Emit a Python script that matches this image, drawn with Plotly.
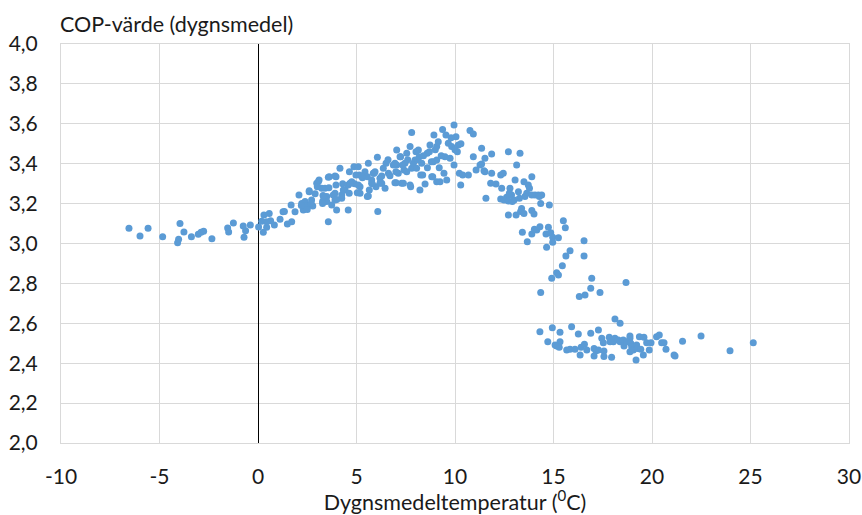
import plotly.graph_objects as go

# Daily mean temperature (°C) and daily mean COP
temp = [
    -6.55, -5.99, -5.58, -4.84, -3.96, -3.76, -4.03, -4.08, -3.38, -3.03, -2.89, -2.76, -2.34, -1.54, -1.49, -1.25, -0.75, -0.71, -0.63, -0.39,
    0.03, 0.19, 0.27, 0.30, 0.44, 0.57, 0.64, 0.83, 1.12, 1.27, 1.49, 1.71, 1.68, 1.88, 2.08, 0.44, 1.34,
    2.22, 2.30, 2.39, 2.60, 2.72, 2.78, 2.98, 3.10, 3.28, 3.23, 3.40, 3.49, 3.62, 3.57, 3.74, 3.91, 3.96, 3.96, 3.99,
    4.16, 4.25, 4.42, 4.58, 4.58, 4.64, 4.76, 4.87, 5.04, 5.14, 5.18, 5.09, 5.43, 5.60, 5.55, 5.65, 5.55, 5.77, 5.85, 5.99,
    6.06, 6.08, 6.19, 6.28, 6.45, 6.50, 6.36, 7.01, 7.04, 7.04, 7.12,
    2.5, 2.9, 3.3, 3.6, 4.0, 4.3, 4.9, 5.3, 5.8,
    2.60, 3.06, 3.01, 3.57, 3.35, 3.49, 3.91, 3.82, 3.91, 4.25, 4.33, 4.67, 4.63, 4.97, 5.09, 5.18, 5.26, 5.77, 5.60, 5.89,
    6.19, 6.28, 6.62, 6.87, 6.95, 7.21, 7.29, 7.41, 7.46, 7.72, 7.80, 7.97, 8.14, 8.26, 8.59, 8.82, 8.90, 9.07, 9.07,
    2.2, 2.5, 2.7, 3.28,
    5.94, 6.95, 7.24, 7.34, 7.38, 7.55, 7.55, 7.72, 7.80, 7.75, 7.89, 8.02, 8.05, 8.19, 8.22, 8.31, 8.36, 8.48, 8.70, 8.73,
    8.87, 8.93, 9.07, 9.15, 9.24, 9.37, 9.44, 9.49, 9.54, 9.58, 9.66, 9.75, 9.83, 9.95, 9.95, 10.05, 10.12, 10.17, 10.22, 10.29,
    10.39, 10.68, 10.76, 10.93, 10.93, 11.07, 11.27, 11.35, 11.52, 11.52, 11.57, 11.86, 11.86, 11.81, 12.08, 12.32, 12.45, 12.37,
    12.71, 12.62, 12.79, 12.87, 13.05, 13.0, 13.13, 13.22, 12.71, 13.10,
    8.1, 8.4, 8.6, 9.0, 9.3, 9.8, 10.0, 7.6, 7.0, 6.7, 6.6, 8.8, 9.2, 10.3,
    11.35, 11.47, 13.30, 12.76, 12.32, 12.49, 12.71, 12.91, 13.27, 13.50, 13.64, 13.72, 13.78, 13.55, 13.90, 13.90, 14.06, 14.23,
    14.40, 14.28, 14.35, 14.79, 13.38, 13.33, 13.50, 13.90, 14.01, 13.42, 13.67, 13.90, 14.03, 14.15, 14.31, 14.62, 14.74, 14.86,
    14.96, 14.96, 14.65, 15.25, 15.50, 15.60, 15.84, 15.63, 16.55, 16.55,
    15.45, 15.16, 15.25, 14.91, 14.35, 16.94, 16.89, 17.36, 16.60, 16.31, 18.68, 18.12, 18.38,
    14.31, 14.94, 15.33, 15.92, 16.26, 16.89, 17.28, 14.71, 15.33, 15.16, 15.29, 15.67, 15.84, 16.09, 16.40, 16.57, 16.69, 16.35,
    17.06, 17.16, 17.06, 17.28, 17.45, 17.53, 17.56, 17.56, 17.83, 17.95, 18.04, 18.12, 18.29, 18.38, 18.54, 18.58, 18.71, 18.88,
    18.92, 18.97, 18.88, 19.05, 19.22, 19.36, 19.26, 19.43, 19.59, 19.56, 19.73, 19.86, 19.95, 19.19, 20.23, 20.37, 20.49, 20.61, 20.71,
    21.55, 22.49, 23.96, 25.14, 21.12, 21.17, 15.08, 17.87, 18.88,
]
cop = [
    3.076, 3.038, 3.076, 3.034, 3.100, 3.058, 3.021, 3.004, 3.034, 3.046, 3.056, 3.061, 3.024, 3.078, 3.058, 3.103, 3.088, 3.031, 3.064, 3.093,
    3.083, 3.111, 3.056, 3.143, 3.081, 3.151, 3.114, 3.093, 3.121, 3.159, 3.098, 3.109, 3.193, 3.159, 3.243, 3.109, 3.160,
    3.201, 3.168, 3.210, 3.260, 3.218, 3.188, 3.302, 3.318, 3.210, 3.277, 3.277, 3.235, 3.335, 3.109, 3.193, 3.252, 3.335, 3.293, 3.168,
    3.377, 3.227, 3.268, 3.293, 3.168, 3.360, 3.310, 3.385, 3.255, 3.343, 3.285, 3.385, 3.360, 3.402, 3.335, 3.268, 3.235, 3.318, 3.352, 3.285,
    3.432, 3.160, 3.327, 3.302, 3.277, 3.402, 3.377, 3.305, 3.469, 3.393, 3.352,
    3.19, 3.25, 3.24, 3.28, 3.22, 3.30, 3.30, 3.33, 3.30,
    3.265, 3.310, 3.285, 3.332, 3.227, 3.210, 3.338, 3.243, 3.218, 3.243, 3.268, 3.302, 3.252, 3.343, 3.293, 3.252, 3.338, 3.302, 3.238, 3.352,
    3.302, 3.338, 3.352, 3.393, 3.305, 3.435, 3.302, 3.368, 3.402, 3.293, 3.377, 3.419, 3.469, 3.343, 3.452, 3.335, 3.410, 3.310, 3.486,
    3.19, 3.17, 3.20, 3.20,
    3.360, 3.402, 3.435, 3.393, 3.302, 3.452, 3.360, 3.486, 3.556, 3.285, 3.402, 3.460, 3.377, 3.435, 3.268, 3.402, 3.343, 3.298, 3.460, 3.494,
    3.335, 3.544, 3.419, 3.510, 3.310, 3.572, 3.352, 3.435, 3.544, 3.318, 3.502, 3.427, 3.486, 3.594, 3.393, 3.535, 3.460, 3.494, 3.352, 3.293,
    3.343, 3.343, 3.566, 3.549, 3.435, 3.368, 3.393, 3.477, 3.427, 3.360, 3.227, 3.449, 3.352, 3.302, 3.298, 3.343, 3.352, 3.277,
    3.460, 3.232, 3.277, 3.243, 3.318, 3.218, 3.393, 3.260, 3.143, 3.143,
    3.42, 3.44, 3.38, 3.47, 3.44, 3.53, 3.47, 3.42, 3.36, 3.34, 3.42, 3.41, 3.38, 3.50,
    3.398, 3.365, 3.452, 3.252, 3.223, 3.218, 3.213, 3.210, 3.227, 3.310, 3.252, 3.293, 3.277, 3.235, 3.335, 3.243, 3.243, 3.243,
    3.243, 3.235, 3.201, 3.193, 3.176, 3.160, 3.151, 3.165, 3.148, 3.056, 3.009, 3.048, 3.071, 3.068, 3.084, 3.048, 3.081, 3.054,
    3.031, 3.006, 2.981, 3.029, 3.114, 3.079, 2.964, 2.937, 3.014, 2.937,
    2.889, 2.854, 2.842, 2.826, 2.755, 2.826, 2.776, 2.754, 2.742, 2.734, 2.804, 2.622, 2.600,
    2.558, 2.578, 2.555, 2.583, 2.546, 2.550, 2.566, 2.508, 2.508, 2.486, 2.480, 2.466, 2.470, 2.470, 2.480, 2.495, 2.466, 2.441,
    2.474, 2.463, 2.436, 2.466, 2.525, 2.503, 2.461, 2.433, 2.530, 2.430, 2.508, 2.525, 2.516, 2.508, 2.516, 2.486, 2.508, 2.525,
    2.500, 2.483, 2.458, 2.466, 2.491, 2.533, 2.474, 2.470, 2.530, 2.441, 2.503, 2.466, 2.503, 2.416, 2.533, 2.541, 2.503, 2.503, 2.470,
    2.510, 2.536, 2.463, 2.503, 2.441, 2.436, 2.491, 2.508, 2.536,
]

x_ticks = [-10, -5, 0, 5, 10, 15, 20, 25, 30]
y_ticks = [2.0, 2.2, 2.4, 2.6, 2.8, 3.0, 3.2, 3.4, 3.6, 3.8, 4.0]

FONT = "Lato"
FS = 21
FT = 21.5
GRID = "#d9d9d9"
TXT = "#1a1a1a"

fig = go.Figure()
fig.add_trace(go.Scatter(
    x=temp, y=cop, mode="markers",
    marker=dict(color="#5b9bd5", size=7, line=dict(width=0)),
    showlegend=False, hoverinfo="x+y",
))

fig.update_layout(
    width=862, height=515,
    margin=dict(l=61, r=13, t=44, b=72, autoexpand=False),
    paper_bgcolor="white", plot_bgcolor="white",
    separators=", ",
    font=dict(family=FONT, size=FS, color=TXT),
    xaxis=dict(
        range=[-10, 30], tickvals=x_ticks, ticktext=[str(v) for v in x_ticks],
        showgrid=True, gridcolor=GRID, gridwidth=1,
        showline=True, linecolor=GRID, linewidth=1, mirror=True,
        zeroline=True, zerolinecolor="black", zerolinewidth=1,
        ticks="", ticklabelstandoff=15, automargin=False,
        tickfont=dict(family=FONT, size=FS, color=TXT),
        title=dict(text="Dygnsmedeltemperatur (<sup>0</sup>C)", standoff=12,
                   font=dict(family=FONT, size=FT, color=TXT)),
        fixedrange=True,
    ),
    yaxis=dict(
        range=[2.0, 4.0], tickvals=y_ticks, tickformat=".1f",
        showgrid=True, gridcolor=GRID, gridwidth=1,
        showline=True, linecolor=GRID, linewidth=1, mirror=True,
        zeroline=False,
        ticks="", ticklabelstandoff=18, automargin=False,
        tickfont=dict(family=FONT, size=FS, color=TXT),
        fixedrange=True,
    ),
    annotations=[dict(
        text="COP-värde (dygnsmedel)", xref="paper", yref="paper",
        x=0, y=1, xanchor="left", yanchor="bottom", yshift=5, xshift=-3,
        showarrow=False, font=dict(family=FONT, size=FT, color=TXT),
    )],
)

fig.write_html(
    "out.html",
    config={"displayModeBar": False},
    post_script="document.body.style.margin='0';document.body.style.overflow='hidden';",
)
